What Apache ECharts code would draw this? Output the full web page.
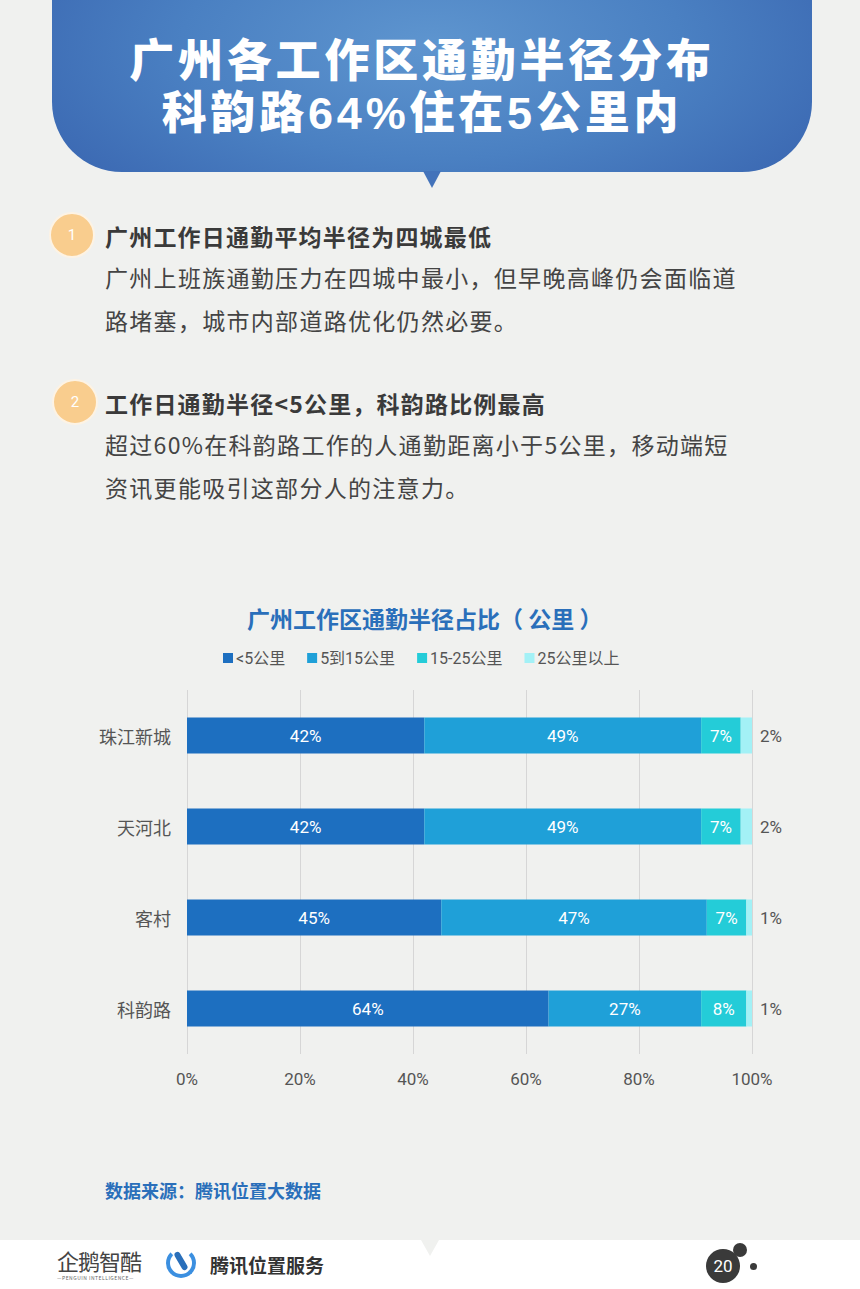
<!DOCTYPE html>
<html>
<head>
<meta charset="utf-8">
<script src="https://cdn.jsdelivr.net/npm/echarts@6/dist/echarts.min.js"></script>
<style>
html,body{margin:0;padding:0;}
body{width:860px;height:1289px;background:#f0f1ef;position:relative;overflow:hidden;font-family:"Noto Sans CJK SC","Noto Sans",sans-serif;}
.header{position:absolute;left:52px;top:-60px;width:760px;height:232px;border-radius:0 0 70px 70px;
 background:radial-gradient(ellipse 60% 90% at 50% 45%, #5e95cf 0%, #4a80c2 55%, #3b68b2 100%);}
.ptr{position:absolute;left:423px;top:171px;width:0;height:0;border-left:9px solid transparent;border-right:9px solid transparent;border-top:17px solid #4373ba;}
.title{position:absolute;left:42px;width:760px;text-align:center;color:#fff;font-family:"Liberation Sans","Noto Sans CJK SC",sans-serif;font-size:45px;font-weight:900;line-height:50px;height:50px;letter-spacing:3.8px;white-space:nowrap;}
.circ{position:absolute;width:42px;height:42px;border-radius:50%;background:#f9cd8e;border:2px solid #fdf3e4;color:#fff;font-size:15px;text-align:center;line-height:42px;font-family:Roboto,sans-serif;}
.h{position:absolute;left:105px;font-size:23px;font-weight:700;color:#3a3a3a;white-space:nowrap;letter-spacing:1.2px;}
.p{position:absolute;left:105px;font-size:23px;color:#444;line-height:43px;white-space:nowrap;letter-spacing:1.3px;}
#chart{position:absolute;left:0;top:0;width:860px;height:1289px;}
.src{position:absolute;left:105px;top:1177px;font-size:18px;font-weight:700;color:#2a6fba;}
.foot{position:absolute;left:0;top:1240px;width:860px;height:49px;background:#fff;}
.fptr{position:absolute;left:421px;top:1240px;width:0;height:0;border-left:9px solid transparent;border-right:9px solid transparent;border-top:16px solid #f0f1ef;}
.logo1{position:absolute;left:57px;top:1244px;font-size:22px;color:#444;letter-spacing:-1px;}
.logo1s{position:absolute;left:57px;top:1274px;font-size:5px;color:#666;letter-spacing:0.5px;}
.logo2{position:absolute;left:210px;top:1251px;font-size:19px;font-weight:700;color:#333;}
.ic{position:absolute;left:166px;top:1248px;width:30px;height:30px;border-radius:50%;border:4px solid #3b8fe0;box-sizing:border-box;border-top-color:transparent;}
.ic2{position:absolute;left:178px;top:1251px;width:6px;height:20px;background:#2a6fba;transform:rotate(-30deg);border-radius:3px;}
.pg{position:absolute;left:706px;top:1249px;width:34px;height:34px;border-radius:50%;background:#3a3a3a;color:#fff;font-size:17px;text-align:center;line-height:34px;font-family:Roboto,sans-serif;}
.pg2{position:absolute;left:733px;top:1243px;width:14px;height:14px;border-radius:50%;background:#3a3a3a;}
.pg3{position:absolute;left:750px;top:1263px;width:7px;height:7px;border-radius:50%;background:#3a3a3a;}
</style>
</head>
<body>
<div class="header"></div>
<div class="ptr"></div>
<div class="title" style="top:37px;">广州各工作区通勤半径分布</div>
<div class="title" style="top:89px;">科韵路64%住在5公里内</div>

<div class="circ" style="left:49px;top:212px;">1</div>
<div class="h" style="top:219px;">广州工作日通勤平均半径为四城最低</div>
<div class="p" style="top:256px;">广州上班族通勤压力在四城中最小，但早晚高峰仍会面临道<br>路堵塞，城市内部道路优化仍然必要。</div>

<div class="circ" style="left:52px;top:379px;">2</div>
<div class="h" style="top:386px;">工作日通勤半径&lt;5公里，科韵路比例最高</div>
<div class="p" style="top:423px;">超过60%在科韵路工作的人通勤距离小于5公里，移动端短<br>资讯更能吸引这部分人的注意力。</div>

<div id="chart"></div>

<div class="src">数据来源：腾讯位置大数据</div>
<div class="foot"></div>
<div class="fptr"></div>
<div class="logo1">企鹅智酷</div>
<div class="logo1s">—PENGUIN INTELLIGENCE—</div>
<div class="ic"></div>
<div class="ic2"></div>
<div class="logo2">腾讯位置服务</div>
<div class="pg">20</div>
<div class="pg2"></div>
<div class="pg3"></div>

<script>
var categories = ['珠江新城', '天河北', '客村', '科韵路'];
var seriesNames = ['<5公里', '5到15公里', '15-25公里', '25公里以上'];
var lt5 = [42, 42, 45, 64];
var r5to15 = [49, 49, 47, 27];
var r15to25 = [7, 7, 7, 8];
var gt25 = [2, 2, 1, 1];
var xTicks = [0, 20, 40, 60, 80, 100];

var colors = ['#1d6fc0', '#1fa0d8', '#24ccd8', '#a3f1f6'];
var dataSets = [lt5, r5to15, r15to25, gt25];

var chart = echarts.init(document.getElementById('chart'), null, {renderer: 'svg'});
var series = dataSets.map(function (d, i) {
  var last = i === 3;
  return {
    name: seriesNames[i],
    type: 'bar',
    stack: 'total',
    barWidth: 36,
    data: d.slice().reverse(),
    itemStyle: {color: colors[i]},
    label: {
      show: true,
      position: last ? 'right' : 'inside',
      distance: 8,
      formatter: '{c}%',
      color: last ? '#555' : '#fff',
      fontSize: 17,
      fontFamily: 'Roboto, "Noto Sans CJK SC", sans-serif'
    }
  };
});

chart.setOption({
  backgroundColor: 'transparent',
  animation: false,
  title: {
    text: '广州工作区通勤半径占比（ 公里 ）',
    left: 242,
    top: 601,
    textStyle: {color: '#2a6fba', fontSize: 23, fontWeight: 'bold', fontFamily: '"Noto Sans CJK SC", sans-serif'}
  },
  legend: {
    data: seriesNames,
    left: 218,
    top: 645,
    itemWidth: 10,
    itemHeight: 10,
    itemGap: 22,
    icon: 'rect',
    textStyle: {color: '#555', fontSize: 16, padding: [0, 0, 0, -2], fontFamily: 'Roboto, "Noto Sans CJK SC", sans-serif'}
  },
  grid: {left: 187, right: 108, top: 690, bottom: 235, containLabel: false},
  xAxis: {
    type: 'value',
    min: 0,
    max: 100,
    interval: 20,
    axisLine: {show: false},
    axisTick: {show: false},
    splitLine: {show: true, lineStyle: {color: '#d6d6d6', width: 1}},
    axisLabel: {
      formatter: function (v) { return xTicks.indexOf(v) >= 0 ? v + '%' : ''; },
      color: '#555',
      fontSize: 17,
      margin: 16,
      fontFamily: 'Roboto, sans-serif'
    }
  },
  yAxis: {
    type: 'category',
    data: categories.slice().reverse(),
    axisLine: {show: false},
    axisTick: {show: false},
    axisLabel: {color: '#555', fontSize: 18, margin: 16, fontFamily: '"Noto Sans CJK SC", sans-serif'}
  },
  series: series
});
</script>
</body>
</html>
